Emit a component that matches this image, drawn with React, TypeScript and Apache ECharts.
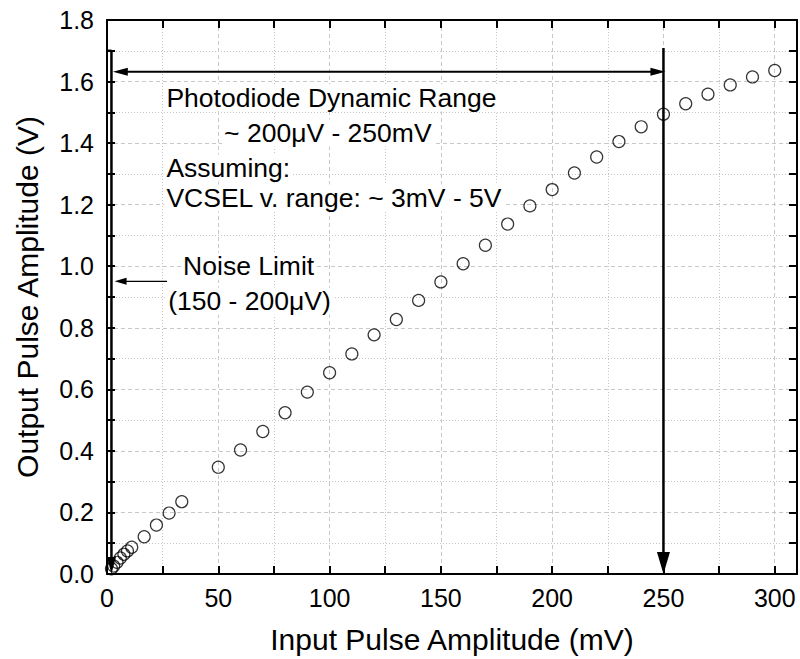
import React, { useEffect, useRef } from "react";
import * as echarts from "echarts";

// Measured data (input mV, output V)
const inputMv = [2, 3, 4.5, 6, 7.6, 9.2, 11.1, 16.7, 22.2, 27.9, 33.6, 50, 60, 70, 80, 90, 100, 110, 120, 130, 140, 150, 160, 170, 180, 190, 200, 210, 220, 230, 240, 250, 260, 270, 280, 290, 300];
const outputV = [0.017, 0.026, 0.038, 0.052, 0.064, 0.075, 0.087, 0.121, 0.159, 0.198, 0.235, 0.347, 0.403, 0.463, 0.524, 0.591, 0.654, 0.715, 0.777, 0.827, 0.889, 0.949, 1.008, 1.068, 1.137, 1.196, 1.249, 1.303, 1.355, 1.405, 1.453, 1.494, 1.528, 1.559, 1.589, 1.615, 1.636];

const xTitle = "Input Pulse Amplitude (mV)";
const yTitle = "Output Pulse Amplitude (V)";

// Annotation arrows in data coordinates
const arrowFrom = [[2, 1.7], [0, 1.7], [2.6, 1.632], [250, 1.709], [27, 0.951]];
const arrowTo = [[2, 0], [2, 1.7], [250.9, 1.632], [250, 0], [3.4, 0.951]];
const arrowHeads = ["end", "none", "both", "end", "end"];

// Annotation texts in data coordinates (left, middle)
const noteTexts = [
  "Photodiode Dynamic Range",
  "~ 200\u03BCV - 250mV",
  "Assuming:",
  "VCSEL v. range: ~ 3mV - 5V",
  "Noise Limit",
  "(150 - 200\u03BCV)",
];
const noteX = [25.8, 51.7, 25.8, 25.8, 33.3, 26.6];
const noteY = [1.547, 1.433, 1.319, 1.222, 1.0, 0.886];

// styles (not data)
const arrowStyles = [
  { w: 2.5, headL: 17, headW: 9 },
  { w: 2.5, headL: 0, headW: 0 },
  { w: 2, headL: 15, headW: 8 },
  { w: 2.5, headL: 22, headW: 13 },
  { w: 1.2, headL: 12, headW: 7 },
];

const FONT = '"Liberation Sans", Arial, Helvetica, sans-serif';

function head(tip: number[], other: number[], L: number, W: number) {
  const dx = tip[0] - other[0];
  const dy = tip[1] - other[1];
  const len = Math.sqrt(dx * dx + dy * dy) || 1;
  const ux = dx / len, uy = dy / len;
  const bx = tip[0] - ux * L, by = tip[1] - uy * L;
  const px = -uy * W / 2, py = ux * W / 2;
  return {
    base: [bx, by],
    points: [[tip[0], tip[1]], [bx + px, by + py], [bx - px, by - py]],
  };
}

export default function App() {
  const ref = useRef<HTMLDivElement>(null);
  useEffect(() => {
    document.body.style.margin = "0";
    const chart = echarts.init(ref.current as HTMLDivElement, null, { renderer: "svg" });
    const axisLine = { show: true, onZero: false, lineStyle: { color: "#000", width: 2 } };
    const axisTick = { show: true, inside: true, length: 8, lineStyle: { color: "#000", width: 2 } };
    const dotted = (colors: string[]) => ({ show: true, lineStyle: { type: [1, 2], color: colors, width: 1 } });
    const dashed = (colors: string[]) => ({ show: true, lineStyle: { type: [4, 3], color: colors, width: 1 } });
    const option: any = {
      animation: false,
      backgroundColor: "#fff",
      grid: { left: 107, right: 3, top: 20, bottom: 84, containLabel: false },
      xAxis: [
        {
          type: "value", position: "bottom", min: 0, max: 310, interval: 25,
          axisLine, axisTick,
          axisLabel: {
            color: "#000", fontSize: 25, fontFamily: FONT, margin: 11,
            formatter: (v: number) => (Math.round(v) % 50 === 0 && v <= 300 ? String(Math.round(v)) : ""),
          },
          splitLine: dotted(["rgba(0,0,0,0)", "#c4c4c4"]),
          name: xTitle, nameLocation: "middle", nameGap: 50,
          nameTextStyle: { color: "#000", fontSize: 30, fontFamily: FONT },
        },
        {
          type: "value", position: "top", min: 0, max: 310, interval: 25,
          axisLine, axisTick, axisLabel: { show: false },
          splitLine: dashed(["#c8c8c8", "rgba(0,0,0,0)"]),
        },
      ],
      yAxis: [
        {
          type: "value", position: "left", min: 0, max: 1.8, interval: 0.1,
          axisLine, axisTick,
          axisLabel: {
            color: "#000", fontSize: 25, fontFamily: FONT, margin: 13,
            formatter: (v: number) => (Math.round(v * 10) % 2 === 0 ? v.toFixed(1) : ""),
          },
          splitLine: dotted(["rgba(0,0,0,0)", "#c4c4c4"]),
          name: yTitle, nameLocation: "middle", nameGap: 65,
          nameTextStyle: { color: "#000", fontSize: 30, fontFamily: FONT },
        },
        {
          type: "value", position: "right", min: 0, max: 1.8, interval: 0.1,
          axisLine, axisTick, axisLabel: { show: false },
          splitLine: dashed(["#c8c8c8", "rgba(0,0,0,0)"]),
        },
      ],
      series: [
        {
          type: "custom",
          xAxisIndex: 0, yAxisIndex: 0,
          silent: true,
          z: 3,
          data: noteTexts.map((t, i) => [noteX[i], noteY[i]]),
          encode: { x: 0, y: 1 },
          renderItem: (params: any, api: any) => {
            const i = params.dataIndex;
            const p = api.coord([noteX[i], noteY[i]]);
            return {
              type: "text",
              x: p[0], y: p[1],
              style: {
                text: noteTexts[i],
                font: `26.5px ${FONT}`,
                fill: "#000",
                align: "left",
                verticalAlign: "middle",
                backgroundColor: "#fff",
                padding: [0, 2],
              },
            };
          },
        },
        {
          type: "custom",
          xAxisIndex: 0, yAxisIndex: 0,
          silent: true,
          z: 4,
          data: arrowFrom.map((f, i) => [f[0], f[1], arrowTo[i][0], arrowTo[i][1]]),
          encode: { x: [0, 2], y: [1, 3] },
          renderItem: (params: any, api: any) => {
            const i = params.dataIndex;
            const st = arrowStyles[i];
            const a = api.coord(arrowFrom[i]);
            const b = api.coord(arrowTo[i]);
            const children: any[] = [];
            let s = a, e = b;
            const kind = arrowHeads[i];
            if (kind === "end" || kind === "both") {
              const h = head(b, a, st.headL, st.headW);
              e = [(h.base[0] + b[0]) / 2, (h.base[1] + b[1]) / 2];
              children.push({ type: "polygon", shape: { points: h.points }, style: { fill: "#000" } });
            }
            if (kind === "both") {
              const h = head(a, b, st.headL, st.headW);
              s = [(h.base[0] + a[0]) / 2, (h.base[1] + a[1]) / 2];
              children.push({ type: "polygon", shape: { points: h.points }, style: { fill: "#000" } });
            }
            children.unshift({
              type: "line",
              shape: { x1: s[0], y1: s[1], x2: e[0], y2: e[1] },
              style: { stroke: "#000", lineWidth: st.w },
            });
            return { type: "group", children };
          },
        },
        {
          type: "scatter",
          xAxisIndex: 0, yAxisIndex: 0,
          z: 5,
          symbol: "circle",
          symbolSize: 12,
          itemStyle: { color: "rgba(255,255,255,0)", borderColor: "#000", borderWidth: 1.2 },
          data: inputMv.map((x, i) => [x, outputV[i]]),
        },
      ],
    };
    chart.setOption(option);
    return () => chart.dispose();
  }, []);
  return <div ref={ref} style={{ width: 800, height: 659 }} />;
}
